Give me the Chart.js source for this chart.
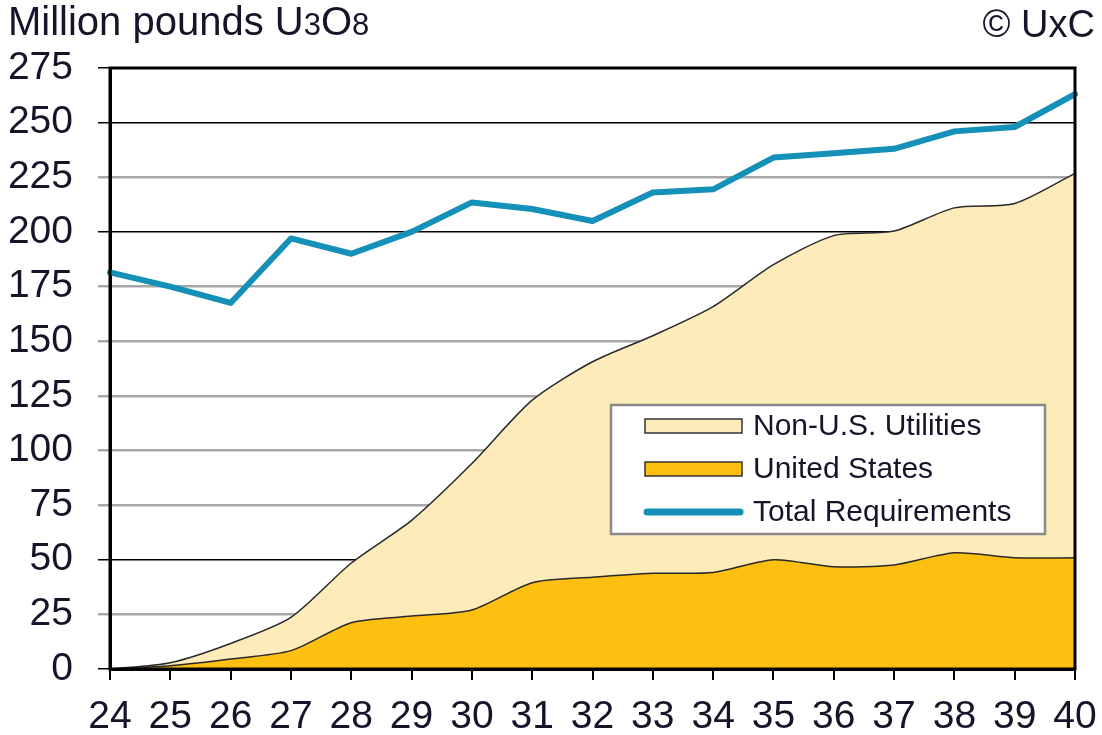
<!DOCTYPE html>
<html><head><meta charset="utf-8">
<script src="https://cdn.jsdelivr.net/npm/chart.js@4"></script>
<style>html,body{margin:0;padding:0;background:#fff}#wrap{width:1102px;height:735px;position:relative}</style>
</head><body><div id="wrap"><canvas id="c" width="1102" height="735"></canvas></div>
<script>
const years = ['24','25','26','27','28','29','30','31','32','33','34','35','36','37','38','39','40'];
const unitedStates = [0, 1.5, 4.6, 8.4, 21.2, 24.2, 27, 39.5, 42, 43.8, 44.2, 50, 46.8, 47.6, 53.2, 50.9, 50.9];
const nonUSUtilities = [0, 1.4, 7.1, 15.2, 27.3, 43.8, 67, 83.5, 98.6, 108.7, 121.6, 135, 151.5, 152.8, 157.8, 162.1, 175.9];
const totalRequirements = [181.5, 175, 167.5, 197, 190, 200, 213.5, 210.5, 205, 218, 219.5, 234, 236, 238, 246, 248, 263];
const yTicks = [0, 25, 50, 75, 100, 125, 150, 175, 200, 225, 250, 275];
const blackGridValues = [0, 50, 200, 250, 275];

const FONT = '"Liberation Sans", Arial, sans-serif';
const TEXT = '#15152a';
const CREAM = '#FDEBB9';
const GOLD = '#FDC010';
const BLUE = '#1590B8';

const decorPlugin = {
  id: 'decor',
  afterDatasetsDraw(chart) {
    const {ctx, chartArea: a} = chart;
    ctx.save();
    ctx.strokeStyle = '#000';
    ctx.lineWidth = 3;
    ctx.strokeRect(a.left, a.top, a.right - a.left, a.bottom - a.top);
    ctx.restore();
  },
  afterDraw(chart) {
    const ctx = chart.ctx;
    ctx.save();
    ctx.fillStyle = TEXT;
    ctx.textBaseline = 'alphabetic';
    ctx.textAlign = 'left';
    let x = 8;
    const y = 35;
    const parts = [['Million pounds U', 40], ['3', 31], ['O', 40], ['8', 31]];
    for (const [t, s] of parts) {
      ctx.font = s + 'px ' + FONT;
      ctx.fillText(t, x, y);
      x += ctx.measureText(t).width;
    }
    ctx.textAlign = 'right';
    ctx.font = '38px ' + FONT;
    ctx.fillText('\u00A9 UxC', 1095, 37);

    const bx = 611, by = 405, bw = 434, bh = 129;
    ctx.fillStyle = '#fff';
    ctx.fillRect(bx, by, bw, bh);
    ctx.strokeStyle = '#8a8a8a';
    ctx.lineWidth = 2.5;
    ctx.strokeRect(bx, by, bw, bh);
    const ds = chart.data.datasets;
    const items = [ds[1], ds[0], ds[2]];
    const rows = [426, 469, 512];
    ctx.font = '30px ' + FONT;
    ctx.textAlign = 'left';
    ctx.textBaseline = 'middle';
    items.forEach((d, i) => {
      const ry = rows[i];
      if (d.fill) {
        ctx.fillStyle = d.backgroundColor;
        ctx.fillRect(645, ry - 7, 97, 14);
        ctx.strokeStyle = '#333';
        ctx.lineWidth = 1.5;
        ctx.strokeRect(645, ry - 7, 97, 14);
      } else {
        ctx.strokeStyle = d.borderColor;
        ctx.lineWidth = 7;
        ctx.lineCap = 'round';
        ctx.beginPath();
        ctx.moveTo(647, ry);
        ctx.lineTo(740, ry);
        ctx.stroke();
      }
      ctx.fillStyle = TEXT;
      ctx.fillText(d.label, 753, ry + 1);
    });
    ctx.restore();
  }
};

new Chart(document.getElementById('c'), {
  type: 'line',
  data: {
    labels: years,
    datasets: [
      {label: 'United States', data: unitedStates, backgroundColor: GOLD, borderColor: '#2a2a2a', borderWidth: 1.5,
       fill: 'origin', stack: 'req', order: 1, tension: 0.25, pointRadius: 0},
      {label: 'Non-U.S. Utilities', data: nonUSUtilities, backgroundColor: CREAM, borderColor: '#2a2a2a', borderWidth: 1.5,
       fill: '-1', stack: 'req', order: 2, tension: 0.25, pointRadius: 0},
      {label: 'Total Requirements', data: totalRequirements, borderColor: BLUE, backgroundColor: BLUE, borderWidth: 6,
       fill: false, stack: 'total', order: 0, tension: 0, pointRadius: 0, borderJoinStyle: 'round', borderCapStyle: 'round'}
    ]
  },
  options: {
    responsive: false,
    animation: false,
    devicePixelRatio: 1,
    layout: {padding: {top: 68, right: 27, left: 0, bottom: 0}},
    plugins: {legend: {display: false}, tooltip: {enabled: false}, title: {display: false}},
    scales: {
      x: {
        type: 'category', offset: false,
        grid: {drawOnChartArea: false, drawTicks: true, tickLength: 11, color: '#000', lineWidth: 2},
        border: {color: '#000', width: 3},
        ticks: {font: {size: 39, family: FONT}, color: TEXT, padding: 14, maxRotation: 0, autoSkip: false},
        afterFit(s) { s.height = 66; s.paddingRight = 0; s.paddingLeft = 0; }
      },
      y: {
        stacked: true, min: 0, max: 275,
        afterBuildTicks(s) { s.ticks = yTicks.map(v => ({value: v})); },
        grid: {
          color: c => blackGridValues.includes(c.tick.value) ? '#000' : '#a8a8a8',
          lineWidth: c => blackGridValues.includes(c.tick.value) ? 1.5 : 2.5,
          tickLength: 12
        },
        border: {color: '#000', width: 3},
        ticks: {font: {size: 39, family: FONT}, color: TEXT, padding: 25},
        afterFit(s) { s.width = 110; s.paddingTop = 0; s.paddingBottom = 0; }
      }
    }
  },
  plugins: [decorPlugin]
});
</script></body></html>
